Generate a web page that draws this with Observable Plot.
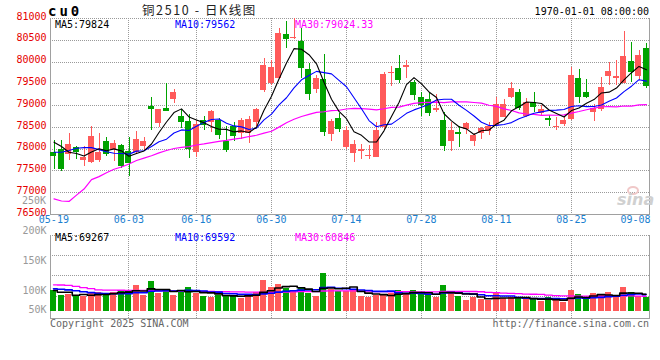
<!DOCTYPE html>
<html><head><meta charset="utf-8">
<script src="https://cdn.jsdelivr.net/npm/d3@7"></script>
<script src="https://cdn.jsdelivr.net/npm/@observablehq/plot@0.6"></script>
<style>
body{margin:0;background:#fff;}
#wrap{position:relative;width:660px;height:360px;overflow:hidden;background:#fff;font-family:"DejaVu Sans Mono",monospace;}
#wrap svg{position:absolute;left:0;}
.t{position:absolute;font-size:10px;line-height:10px;white-space:pre;font-family:"DejaVu Sans Mono",monospace;}
</style></head><body><div id="wrap"></div>
<script>
// ---------------- data ----------------
const dates = ["05-19","05-20","05-21","05-22","05-23","05-26","05-27","05-28","05-29","05-30",
"06-03","06-04","06-05","06-06","06-09","06-10","06-11","06-12","06-13","06-16",
"06-17","06-18","06-19","06-20","06-23","06-24","06-25","06-26","06-27","06-30",
"07-01","07-02","07-03","07-04","07-07","07-08","07-09","07-10","07-11","07-14",
"07-15","07-16","07-17","07-18","07-21","07-22","07-23","07-24","07-25","07-28",
"07-29","07-30","07-31","08-01","08-04","08-05","08-06","08-07","08-08","08-11",
"08-12","08-13","08-14","08-15","08-18","08-19","08-20","08-21","08-22","08-25",
"08-26","08-27","08-28","08-29","09-01","09-02","09-03","09-04","09-05","09-08"];

const open = [77922,77998,77883,78030,77730,77685,77746,78181,77998,78090,
77937,77922,78051,78983,78586,78937,79143,78760,78624,77914,
78662,78608,78662,78181,78524,78356,78356,78608,79349,79501,
79631,80631,80535,80471,79830,79372,79600,78345,78715,78040,
77898,77955,77822,77800,78490,79735,79860,79880,79540,79196,
79142,78891,78662,78181,78380,78456,78166,78356,78395,78532,
78738,79196,79295,78761,79066,78830,78700,78495,78570,78677,
79631,79295,78838,78914,79669,79631,79501,80013,79669,80318];

const high = [78204,78204,78350,78070,78050,78510,78370,78257,78204,78113,
78265,78410,78265,79196,78914,79502,79364,78910,78790,78639,
78753,78891,78715,78509,78601,78700,78753,78944,80089,80036,
80761,80929,80990,80770,79960,79690,80170,78685,78830,78520,
78200,78104,78080,78620,79760,79900,80150,80030,79580,79311,
79272,79250,78853,78608,78509,78608,78356,78486,78608,79196,
79142,79524,79372,79158,79295,79005,78776,78738,78753,79883,
79830,79601,79020,79654,79997,80036,80700,80455,80265,80417];

const low = [77540,77494,77730,77760,77595,77680,77705,77823,77708,77555,
77380,77876,77975,78418,78487,78860,79044,78480,77790,77810,
78433,78380,78227,77921,78166,78219,78128,78509,79310,79463,
79616,80318,80510,79616,79120,79280,78280,78166,78372,77990,
77700,77770,77760,77800,78420,79445,79510,79625,79120,78740,
78740,78853,77952,77952,78030,78334,78051,78227,78320,78509,
78738,79158,78890,78738,78853,78776,78509,78433,78524,78662,
79043,79158,78639,78868,79463,79463,79501,79539,79578,79402];

const close = [77822,77540,78112,77920,77815,78296,77914,77876,78128,77593,
77670,78227,78181,78922,78914,78876,79311,78601,77998,78570,
78547,78875,78303,77975,78280,78662,78685,78914,79921,79883,
80661,80516,80560,79850,79257,79616,78394,78624,78448,78418,
78112,77990,77860,78433,79710,79768,79585,79910,79234,79005,
78830,78944,78051,78418,78334,78585,78303,78471,78509,79020,
79020,79387,78929,79066,78952,78906,78647,78530,78662,79692,
79196,79196,78944,79425,79784,79669,80128,79768,80150,79448];

const ma5 = [78160,78060,77930,77900,77842,77937,78011,77964,78006,77961,
77836,77899,77960,78119,78383,78624,78841,78925,78740,78671,
78605,78518,78459,78454,78396,78419,78381,78503,78892,79213,
79613,79979,80308,80294,80169,79960,79535,79148,78868,78700,
78399,78318,78166,78163,78421,78752,79071,79481,79641,79500,
79313,79185,78813,78650,78515,78466,78338,78422,78440,78578,
78665,78881,78973,79084,79071,79048,78900,78819,78738,78886,
78944,79054,79138,79291,79309,79404,79590,79755,79900,79824];

const ma10 = [77930,77930,77970,78020,78035,78035,77990,77940,77905,77902,
77886,77955,77962,78062,78172,78230,78370,78442,78429,78527,
78615,78680,78692,78597,78534,78512,78450,78481,78673,78805,
79016,79180,79406,79593,79691,79786,79757,79728,79581,79434,
79180,78927,78657,78515,78561,78576,78695,78823,78902,78961,
79033,79128,79147,79146,79008,78890,78761,78618,78545,78547,
78566,78610,78698,78762,78824,78856,78891,78896,78911,78979,
78996,78977,78979,79014,79098,79174,79322,79446,79595,79562];

const ma30 = [76860,76810,76800,76945,77085,77300,77370,77460,77540,77590,
77660,77740,77795,77850,77915,77970,78015,78040,78060,78095,
78120,78150,78180,78200,78230,78255,78290,78320,78370,78411,
78506,78605,78686,78751,78799,78843,78859,78884,78894,78922,
78937,78929,78918,78902,78928,78958,78967,79011,79052,79067,
79076,79078,79070,79085,79086,79084,79071,79056,79009,78981,
78926,78888,78834,78808,78798,78774,78782,78779,78787,78829,
78865,78905,78941,78974,78977,78973,78991,78987,79017,79024];

// volume in thousands (as read against the panel's K labels)
const volumeK = [100.0,91.6,93.3,90.5,90.5,94.4,96.6,94.4,96.6,100.0,
98.9,108.4,91.6,115.1,94.9,98.9,91.6,100.0,105.0,95.5,
90.5,88.8,91.6,92.1,92.1,87.1,91.6,96.6,116.8,105.6,
110.1,103.9,98.9,104.5,94.4,90.5,129.2,102.0,98.9,98.9,
101.1,90.5,88.8,91.6,93.3,94.4,100.0,94.4,100.0,94.4,
91.6,88.8,108.4,98.9,90.5,83.2,88.8,84.3,83.2,94.4,
86.0,88.8,87.1,84.8,84.8,82.0,88.8,83.2,80.3,100.0,
93.3,84.8,94.9,92.7,96.6,88.8,105.0,96.6,90.5,88.2];

const volMa5 = [100.0,97.0,97.0,92.0,93.2,92.1,93.1,93.3,94.5,96.4,
97.3,99.7,99.1,102.8,101.8,101.8,98.4,100.1,98.1,98.2,
96.5,96.0,94.3,91.7,91.0,90.3,90.9,91.9,96.8,99.5,
104.1,106.6,107.1,104.6,102.4,98.4,103.5,104.1,103.0,103.9,
106.0,98.3,95.6,94.2,93.1,91.7,93.6,94.7,96.4,96.6,
96.1,93.8,96.6,96.4,95.6,94.0,94.0,89.1,86.0,86.8,
87.3,87.3,87.9,88.2,86.3,85.5,85.5,84.7,83.8,86.9,
89.1,88.3,90.7,93.1,92.5,91.6,95.6,95.9,95.5,93.8];

const volMa10 = [102.8,102.0,101.0,99.5,98.0,96.5,95.5,95.0,94.8,94.8,
94.7,96.4,96.2,98.7,99.1,99.5,99.0,99.6,100.4,100.0,
99.2,97.2,97.2,94.9,94.6,93.4,93.4,93.1,94.3,95.3,
97.2,98.8,99.5,100.7,100.9,101.3,105.1,105.6,103.8,103.1,
102.2,100.9,99.9,98.6,98.5,98.9,96.0,95.2,95.3,94.9,
93.9,93.7,95.7,96.4,96.1,95.0,93.9,92.9,91.2,91.2,
90.7,90.7,88.5,87.1,86.5,86.4,86.4,86.3,86.0,86.6,
87.3,86.9,87.7,88.5,89.7,90.3,92.0,93.3,94.3,93.1];

const volMa30 = [109.5,109.3,108.5,107.0,105.0,103.0,101.2,100.8,100.6,100.4,
100.2,100.0,100.0,99.9,99.8,99.6,99.4,99.2,99.0,98.8,
98.6,98.4,98.2,98.0,97.8,97.6,97.4,97.2,97.0,96.7,
97.0,97.4,97.6,98.1,98.2,98.1,99.2,99.4,99.5,99.5,
99.5,98.9,98.9,98.1,98.0,97.9,98.1,98.0,97.8,97.8,
97.8,97.8,98.4,98.6,98.5,98.4,98.3,97.9,96.8,96.4,
95.6,95.1,94.7,94.0,93.7,93.4,92.1,91.5,90.8,90.9,
90.6,90.4,90.6,90.7,90.8,90.6,90.8,90.8,90.5,90.3];

const tickDates = ["05-19","06-03","06-16","06-30","07-14","07-28","08-11","08-25","09-08"];
const priceTicks = [81000,80500,80000,79500,79000,78500,78000,77500,77000,76500];
const volTickValues = [200,150,100];
const volTickLabels = ["200K","150K","100K"];
const volTopLabel = "250K";
const volLowTick = [50];
const volLowLabel = ["50K"];

const maMainLabels = ["MA5:79824","MA10:79562","MA30:79024.33"];
const maVolLabels = ["MA5:69267","MA10:69592","MA30:60846"];

// ---------------- build ----------------
const RED = "#ff5a5a", GREEN = "#00a300", GRID = "#9a9a9a", BORDER = "#a0a0a0";
const MONO = "DejaVu Sans Mono";
const rows = dates.map((d, i) => ({d, i, o: open[i], h: high[i], l: low[i], c: close[i], v: volumeK[i], up: close[i] >= open[i]}));
const upRows = rows.filter(r => r.up), dnRows = rows.filter(r => !r.up);
const gridIdx = tickDates.slice(1, -1).map(d => dates.indexOf(d));
const N = dates.length;
const GOFF = 0.45;
const dot = {stroke: GRID, strokeDasharray: "1,1", shapeRendering: "crispEdges"};
const volTicks = volTickValues.map((v, k) => ({v, label: volTickLabels[k]}));
const volLow = volLowTick.map((v, k) => ({v, label: volLowLabel[k]}));

const wrap = document.getElementById("wrap");

// price panel
const main = Plot.plot({
  width: 660, height: 215,
  marginLeft: 50, marginRight: 10, marginTop: 18, marginBottom: 1,
  x: {domain: [0, N], axis: null},
  y: {domain: [76500, 81000], axis: null},
  style: {background: "transparent", overflow: "visible"},
  marks: [
    Plot.ruleY(priceTicks.filter(v => v > 76500), dot),
    Plot.ruleX(gridIdx, {x: d => d + GOFF, ...dot}),
    Plot.ruleX([0], {stroke: BORDER, shapeRendering: "crispEdges"}),
    Plot.ruleX([N], {stroke: BORDER, dx: -1, shapeRendering: "crispEdges"}),
    Plot.ruleY([76500], {stroke: BORDER, shapeRendering: "crispEdges"}),
    Plot.ruleX(upRows, {x: d => d.i + 0.4, y1: "l", y2: "h", stroke: RED, dx: 0.5, shapeRendering: "crispEdges"}),
    Plot.ruleX(dnRows, {x: d => d.i + 0.4, y1: "l", y2: "h", stroke: GREEN, dx: 0.5, shapeRendering: "crispEdges"}),
    Plot.rect(upRows, {x1: d => d.i, x2: d => d.i + 0.8, y1: "o", y2: "c", fill: RED, shapeRendering: "crispEdges"}),
    Plot.rect(dnRows, {x1: d => d.i, x2: d => d.i + 0.8, y1: "o", y2: "c", fill: GREEN, shapeRendering: "crispEdges"}),
    Plot.line(rows, {x: d => d.i + 0.4, y: d => ma30[d.i], stroke: "#ff00ff", strokeWidth: 1.2, dx: 0.5}),
    Plot.line(rows, {x: d => d.i + 0.4, y: d => ma10[d.i], stroke: "#0000ff", strokeWidth: 1.1, dx: 0.5}),
    Plot.line(rows, {x: d => d.i + 0.4, y: d => ma5[d.i], stroke: "#000000", strokeWidth: 1.1, dx: 0.5}),
    Plot.text(priceTicks, {y: d => d, text: d => String(d), frameAnchor: "left", textAnchor: "end", dx: -4, dy: -2,
      fill: "#e60000", fontSize: 10, fontFamily: MONO}),
    Plot.text(tickDates.slice(0, -1), {x: d => dates.indexOf(d) + GOFF, text: d => d, frameAnchor: "bottom", dy: 8,
      fill: "#1a80d0", fontSize: 10, fontFamily: MONO}),
    Plot.text(tickDates.slice(-1), {x: d => dates.indexOf(d) + 1, text: d => d, frameAnchor: "bottom", dy: 8, textAnchor: "end",
      fill: "#1a80d0", fontSize: 10, fontFamily: MONO})
  ]
});
main.style.top = "0px";
main.style.background = "transparent";
wrap.appendChild(main);

// volume panel
const VTOP = 193.1, VBOT = 52.36, VPANEL_BOTTOM = 56.23, VBASE = 65.15;
const vGrid = [1, 2, 3].map(k => VTOP - k * (VTOP - VPANEL_BOTTOM) / 4);
const vol = Plot.plot({
  width: 660, height: 115,
  marginLeft: 50, marginRight: 10, marginTop: 19.7, marginBottom: 11.7,
  x: {domain: [0, N], axis: null},
  y: {domain: [VBOT, VTOP], axis: null},
  style: {background: "transparent", overflow: "visible"},
  marks: [
    Plot.ruleY([VTOP, ...vGrid], dot),
    Plot.ruleX(gridIdx, {x: d => d + GOFF, ...dot}),
    Plot.ruleX([0], {stroke: BORDER, shapeRendering: "crispEdges"}),
    Plot.ruleX([N], {stroke: BORDER, dx: -1, shapeRendering: "crispEdges"}),
    Plot.ruleY([VBOT], {stroke: BORDER, shapeRendering: "crispEdges"}),
    Plot.rect(upRows, {x1: d => d.i, x2: d => d.i + 0.8, y1: () => VBASE, y2: "v", fill: RED, shapeRendering: "crispEdges"}),
    Plot.rect(dnRows, {x1: d => d.i, x2: d => d.i + 0.8, y1: () => VBASE, y2: "v", fill: GREEN, shapeRendering: "crispEdges"}),
    Plot.line(rows, {x: d => d.i + 0.4, y: d => volMa30[d.i], stroke: "#ff00ff", strokeWidth: 1.3, curve: "step"}),
    Plot.line(rows, {x: d => d.i + 0.4, y: d => volMa10[d.i], stroke: "#0000ff", strokeWidth: 1.6, curve: "step"}),
    Plot.line(rows, {x: d => d.i + 0.4, y: d => volMa5[d.i], stroke: "#000000", strokeWidth: 1.6, curve: "step"}),
    Plot.text(volTicks, {y: "v", text: "label", frameAnchor: "left", textAnchor: "end", dx: -4,
      fill: "#999", fontSize: 10, fontFamily: MONO}),
    Plot.text(volLow, {y: "v", text: "label", frameAnchor: "left", textAnchor: "end", dx: -4, dy: -10,
      fill: "#999", fontSize: 10, fontFamily: MONO})
  ]
});
vol.style.top = "215px";
vol.style.background = "transparent";
wrap.appendChild(vol);

// ---------------- text overlays ----------------
function put(txt, css) {
  const s = document.createElement("span");
  s.className = "t";
  s.textContent = txt;
  Object.assign(s.style, css);
  wrap.appendChild(s);
  return s;
}
put("cu0", {left: "48px", top: "4px", fontSize: "14px", lineHeight: "14px", fontWeight: "bold", letterSpacing: "3px"});
put("铜2510 - 日K线图", {left: "142px", top: "4px", fontSize: "12.5px", lineHeight: "12px", fontFamily: "'Noto Sans CJK SC', sans-serif", color: "#222", letterSpacing: "1.6px"});
put("1970-01-01 08:00:00", {right: "11px", top: "7px", color: "#000"});
const maColors = ["#000000", "#0000ff", "#ff00ff"];
const maLefts = [55, 175, 295];
maMainLabels.forEach((t, k) => put(t, {left: maLefts[k] + "px", top: "20px", color: maColors[k]}));
maVolLabels.forEach((t, k) => put(t, {left: maLefts[k] + "px", top: "233px", color: maColors[k]}));
put(volTopLabel, {right: "614px", top: "196px", color: "#999"});
put("Copyright 2025 SINA.COM", {left: "50px", top: "319px", color: "#666"});
put("http://finance.sina.com.cn", {right: "11px", top: "319px", color: "#666"});
// watermark
const eye = document.createElement("div");
Object.assign(eye.style, {position: "absolute", left: "627px", top: "186px", width: "12px", height: "9px", borderRadius: "50%", border: "2px solid #f0c8c8", boxSizing: "border-box"});
wrap.appendChild(eye);
put("sina", {left: "617px", top: "193px", fontSize: "16px", lineHeight: "14px", fontStyle: "italic", fontWeight: "bold", color: "#d0d0d0", fontFamily: "'DejaVu Sans', sans-serif"});
</script>
</body></html>
